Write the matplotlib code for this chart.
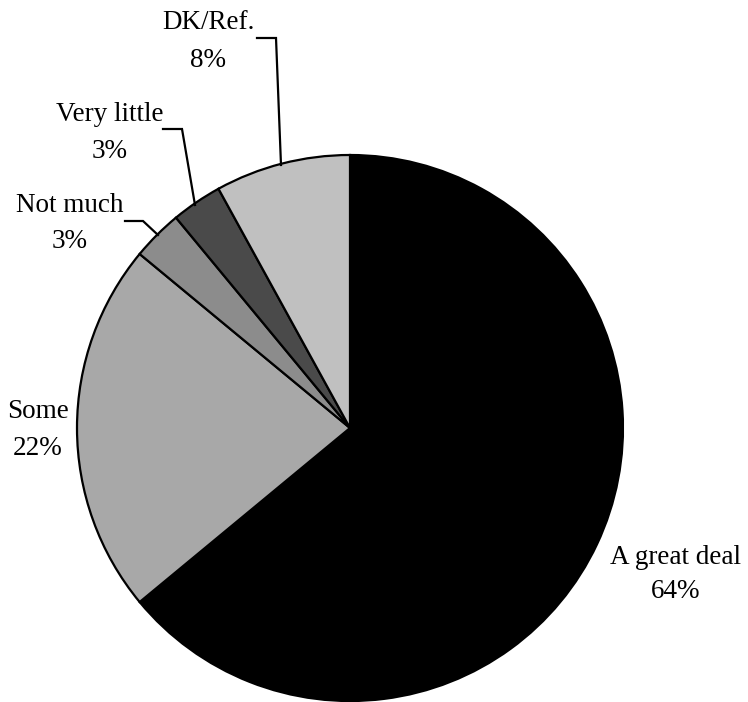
import matplotlib
matplotlib.use("Agg")
import matplotlib.pyplot as plt

# Data
categories = ["A great deal", "Some", "Not much", "Very little", "DK/Ref."]
values = [64, 22, 3, 3, 8]
pct_labels = ["64%", "22%", "3%", "3%", "8%"]
colors = ["#000000", "#a8a8a8", "#8c8c8c", "#4a4a4a", "#c0c0c0"]

W, H = 748, 702
fig = plt.figure(figsize=(W / 100, H / 100), dpi=100)
ax = fig.add_axes([0, 0, 1, 1])

cx, cy, r = 350, H - 428, 273
wedges, _ = ax.pie(values, colors=colors, startangle=90, counterclock=False,
                   center=(cx, cy), radius=r, frame=True,
                   wedgeprops=dict(edgecolor="black", linewidth=1.6))
ax.set_xlim(0, W)
ax.set_ylim(0, H)
ax.set_aspect("equal")
ax.axis("off")

font = dict(family="Liberation Serif", fontsize=19.5, color="black", ha="center", va="baseline")

# label positions (image pixel coords: x, baseline1, baseline2)
label_pos = {
    "A great deal": (676, 564, 598),
    "Some": (38, 418, 455),
    "Not much": (70, 212, 248),
    "Very little": (110, 121, 158),
    "DK/Ref.": (208, 29, 67),
}
for cat, pct in zip(categories, pct_labels):
    x, b1, b2 = label_pos[cat]
    ax.text(x, H - b1, cat, **font)
    ax.text(x, H - b2, pct, **font)

# leader lines (image coords)
leaders = [
    [(257, 38), (276, 38), (281, 165)],
    [(163, 129), (182, 129), (195, 205)],
    [(125, 221), (143, 221), (158, 235)],
]
for pts in leaders:
    xs = [p[0] for p in pts]
    ys = [H - p[1] for p in pts]
    ax.plot(xs, ys, color="black", linewidth=1.6, solid_joinstyle="miter")

fig.savefig("out.png", dpi=100)
